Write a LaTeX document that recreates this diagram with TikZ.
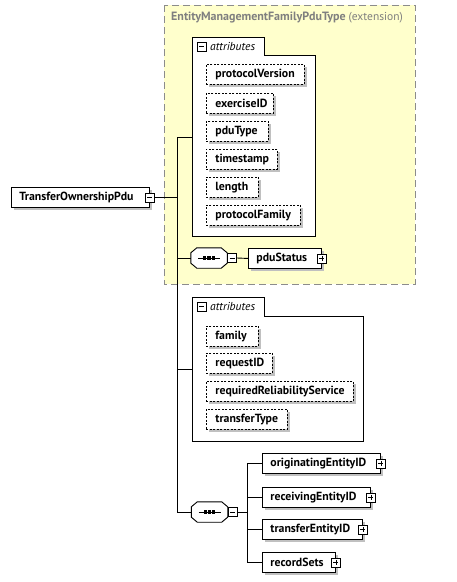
\documentclass[tikz,border=0pt]{standalone}
\usepackage{fontspec}
\setmainfont{PT Sans}
\usetikzlibrary{shadows}
\definecolor{ylw}{HTML}{FFFFCC}
\definecolor{extgray}{HTML}{8C8C8C}
\definecolor{ttlgray}{HTML}{7F7F7F}
\definecolor{shd}{HTML}{C0C0C0}
\tikzset{
  shadowed/.style={general shadow={fill=shd, shadow xshift=3pt, shadow yshift=-3pt}},
  attr/.style={draw, line width=0.9pt, dash pattern=on 2pt off 1.5pt, fill=white, shadowed,
    minimum height=20pt, inner xsep=9pt, inner ysep=0pt, anchor=north west, align=left},
  elem/.style={draw, line width=0.9pt, fill=white, shadowed,
    minimum height=20pt, inner xsep=8pt, inner ysep=0pt, anchor=north west, align=left},
  icon/.style={draw, line width=0.8pt, fill=white, minimum size=9pt, inner sep=0pt},
  minus/.style={icon, path picture={\draw[line width=0.8pt] ([xshift=2pt]path picture bounding box.west) -- ([xshift=-2pt]path picture bounding box.east);}},
  plus/.style={icon, path picture={
     \draw[line width=0.8pt] ([xshift=2pt]path picture bounding box.west) -- ([xshift=-2pt]path picture bounding box.east);
     \draw[line width=0.8pt] ([yshift=-2pt]path picture bounding box.north) -- ([yshift=2pt]path picture bounding box.south);}},
  seqbox/.style={minimum width=36pt, minimum height=20pt, inner sep=0pt},
  octo/.style={draw, line width=0.9pt, fill=white},
  octoshadow/.style={fill=shd},
  extbox/.style={draw=extgray, line width=1pt, dash pattern=on 7pt off 4pt, fill=ylw},
  grp/.style={draw, line width=0.9pt, fill=white},
  conn/.style={line width=0.9pt},
}
\newcommand{\octopath}[1]{([xshift=6pt]#1.north west) -- ([xshift=-6pt]#1.north east) -- ([yshift=-5pt]#1.north east) -- ([yshift=5pt]#1.south east) -- ([xshift=-6pt]#1.south east) -- ([xshift=6pt]#1.south west) -- ([yshift=5pt]#1.south west) -- ([yshift=-5pt]#1.north west) -- cycle}
\begin{document}
\begin{tikzpicture}[x=1pt,y=-1pt,font=\fontsize{11.8}{13}\selectfont\bfseries]
\useasboundingbox (0,0) rectangle (456,582);
% extension box
\draw[extbox] (164,5) rectangle (415,284);
\node[anchor=west, text=ttlgray, inner sep=0pt, font=\fontsize{12}{14}\selectfont\bfseries] (title) at (171,18) {EntityManagementFamilyPduType {\fontsize{11.5}{14}\selectfont\mdseries(extension)}};
% attributes group 1
\draw[grp] (192,37) -- (264,37) -- (264,55) -- (315,55) -- (315,236) -- (192,236) -- cycle;
\node[minus] (g1m) at (201.5,46.5) {};
\node[anchor=west, inner sep=0pt, font=\fontsize{11.5}{12}\selectfont\mdseries\itshape] (g1t) at (210,46) {attributes};
\node[attr, text width=80pt] (pv) at (206,64) {protocolVersion};
\node[attr, text width=49pt] (ex) at (206,93) {exerciseID};
\node[attr, text width=44pt] (pt) at (206,121) {pduType};
\node[attr, text width=53pt] (ts) at (206,149) {timestamp};
\node[attr, text width=34pt] (ln) at (206,177) {length};
\node[attr, text width=76pt] (pf) at (206,205) {protocolFamily};
% attributes group 2
\draw[grp] (192,297) -- (264,297) -- (264,316) -- (363,316) -- (363,441) -- (192,441) -- cycle;
\node[minus] (g2m) at (201.5,306.5) {};
\node[anchor=west, inner sep=0pt, font=\fontsize{11.5}{12}\selectfont\mdseries\itshape] (g2t) at (210,306) {attributes};
\node[attr, text width=34pt] (fa) at (206,326) {family};
\node[attr, text width=48pt] (rq) at (206,353) {requestID};
\node[attr, text width=129pt] (rr) at (206,381) {requiredReliabilityService};
\node[attr, text width=63pt] (tt) at (206,409) {transferType};
% main element
\node[elem, text width=122pt] (main) at (11,187) {TransferOwnershipPdu};
\node[minus] (mainm) at (main.east) {};
% trunk
\coordinate (v1) at (177,137);
\coordinate (v2) at (177,512);
\coordinate (g1) at (192,137);
\coordinate (g2) at (192,369);
\draw[conn] (mainm.east) -- (mainm.east -| v1);
\draw[conn] (v1) -- (v2);
\draw[conn] (v1) -- (g1);
\draw[conn] (v1 |- g2) -- (g2);
% sequence 1
\node[seqbox] (seq1) at (209,258) {};
\fill[octoshadow, xshift=3pt, yshift=-3pt] \octopath{seq1};
\draw[octo] \octopath{seq1};
\node[minus, anchor=west] (seq1m) at (seq1.east) {};
\node[elem, text width=57pt] (pdu) at (248,248) {pduStatus};
\node[plus] (pdup) at (pdu.east) {};
\draw[conn] (v1 |- seq1.west) -- (seq1.west);
\draw[conn] (seq1m.east) -- (pdu.west);
% sequence 2
\node[seqbox] (seq2) at (209.5,512) {};
\fill[octoshadow, xshift=3pt, yshift=-3pt] \octopath{seq2};
\draw[octo] \octopath{seq2};
\node[minus, anchor=west] (seq2m) at (seq2.east) {};
\draw[conn] (v2) -- (seq2.west);
\node[elem, text width=102pt] (oe) at (262,453) {originatingEntityID};
\node[plus] (oep) at (oe.east) {};
\node[elem, text width=92pt] (re) at (262,487) {receivingEntityID};
\node[plus] (rep) at (re.east) {};
\node[elem, text width=84pt] (te) at (262,519) {transferEntityID};
\node[plus] (tep) at (te.east) {};
\node[elem, text width=57pt] (rs) at (262,552) {recordSets};
\node[plus] (rsp) at (rs.east) {};
\coordinate (b) at (247,512);
\draw[conn] (seq2m.east) -- (b);
\draw[conn] (b |- oe.west) -- (b |- rs.west);
\foreach \n in {oe,re,te,rs} \draw[conn] (b |- \n.west) -- (\n.west);
% sequence symbols
\foreach \s in {seq1,seq2} {
  \draw[line width=0.9pt] ([xshift=-11pt]\s.center) -- ([xshift=11pt]\s.center);
  \foreach \i in {-4.3,0,4.3}
    \fill ([xshift=\i pt]\s.center) +(-1.6,-1.6) rectangle +(1.6,1.6);
}
\end{tikzpicture}
\end{document}
